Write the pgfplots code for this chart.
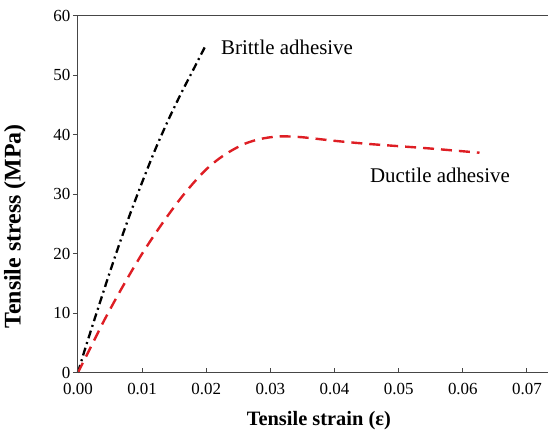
\documentclass[border=0pt]{standalone}
\usepackage{pgfplots}
\pgfplotsset{compat=1.18}
\usepackage{fontspec}
\setmainfont{Liberation Serif}
\definecolor{ductred}{RGB}{222,30,36}
\definecolor{spine}{RGB}{70,70,70}
\begin{document}
\begin{tikzpicture}
\begin{axis}[
    scale only axis,
    width=470bp, height=357bp,
    xmin=0, xmax=0.0732,
    ymin=0, ymax=60,
    axis line style={draw=none},
    xtick={0,0.01,...,0.07},
    ytick={0,10,...,60},
    xtick pos=bottom, ytick pos=left,
    tick align=inside,
    major tick length=5bp,
    tick style={line width=1bp, spine},
    ytick style={xshift=-5bp},
    /pgf/number format/assume math mode=true,
    x tick label style={/pgf/number format/fixed, /pgf/number format/fixed zerofill, /pgf/number format/precision=2},
    xticklabel style={font=\fontsize{17}{20}\selectfont, yshift=-7bp},
    yticklabel style={font=\fontsize{17}{20}\selectfont, xshift=-4bp},
    scaled x ticks=false,
    xlabel={Tensile strain (ε)},
    ylabel={Tensile stress (MPa)},
    xlabel style={font=\fontsize{20.5}{23}\selectfont\bfseries, at={(rel axis cs:0.513,-0.1345)}, anchor=center},
    ylabel style={font=\fontsize{24}{27}\selectfont\bfseries, at={(rel axis cs:-0.134,0.41)}, anchor=center},
    clip=false,
]
% brittle adhesive
\addplot[black, line width=2.3bp, dash pattern=on 8bp off 4bp on 2bp off 4bp, smooth] coordinates {
    (0,0) (0.001,3.6) (0.002,7.0) (0.004,13.7) (0.006,20.2) (0.008,26.3)
    (0.010,32.0) (0.012,37.4) (0.014,42.3) (0.016,46.8) (0.018,51.0) (0.0198,54.8)
};
% ductile adhesive
\addplot[ductred, line width=2.4bp, dash pattern=on 11bp off 7bp, smooth] coordinates {
    (0,0) (0.002,4.3) (0.004,8.6) (0.006,12.6) (0.008,16.4) (0.010,20.0)
    (0.012,23.3) (0.014,26.4) (0.016,29.3) (0.018,31.9) (0.020,34.2)
    (0.022,36.0) (0.024,37.4) (0.026,38.5) (0.028,39.2) (0.030,39.6)
    (0.032,39.75) (0.035,39.6) (0.040,39.0) (0.045,38.5) (0.050,38.1)
    (0.055,37.7) (0.0626,37.0)
};
\draw[line width=1bp, spine] (rel axis cs:0,1) -- (rel axis cs:0,0) -- (rel axis cs:1,0);
\draw[line width=1bp, spine] (rel axis cs:0,1) -- (rel axis cs:1,1);
\node[anchor=west, font=\fontsize{21}{24}\selectfont, inner sep=0pt] at (axis cs:0.0223,54.7) {Brittle adhesive};
\node[anchor=west, font=\fontsize{21}{24}\selectfont, inner sep=0pt] at (axis cs:0.0455,33.2) {Ductile adhesive};
\end{axis}
\path (current axis.south west) ++(-78bp,-62bp) rectangle ++(548bp,435bp);
\end{tikzpicture}
\end{document}
